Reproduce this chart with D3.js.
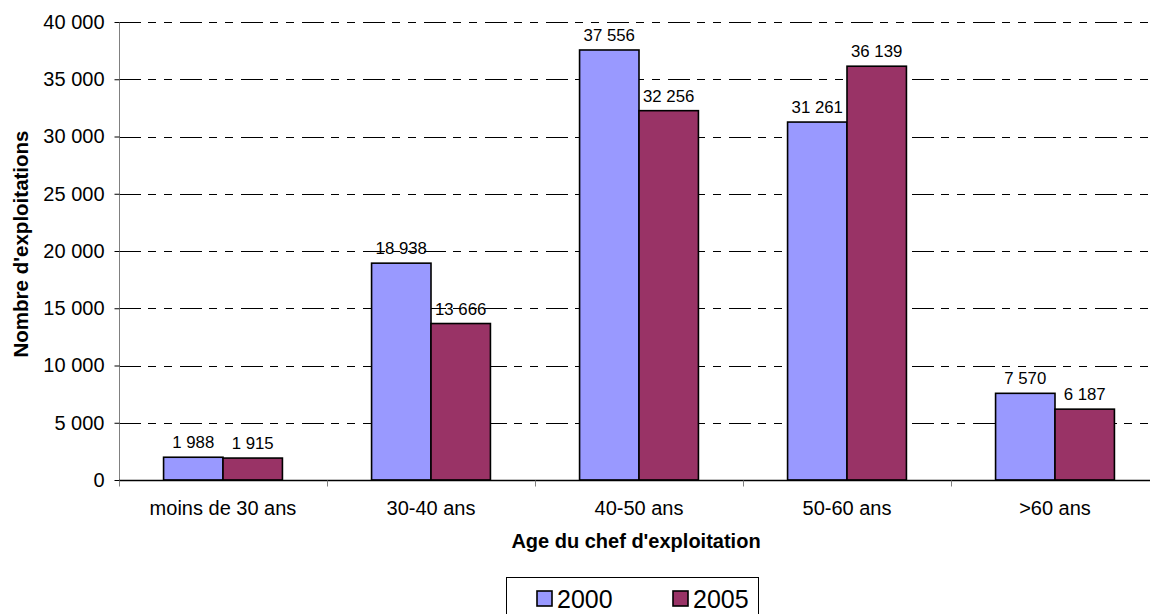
<!DOCTYPE html>
<html>
<head>
<meta charset="utf-8">
<script src="https://cdn.jsdelivr.net/npm/d3@7"></script>
<style>
  html, body { margin: 0; padding: 0; background: #fff; }
  svg { display: block; font-family: "Liberation Sans", Arial, sans-serif; }
</style>
</head>
<body>
<svg id="chart" width="1150" height="614"></svg>
<script>
// Farm counts by age of the head of holding
const categories = ["moins de 30 ans", "30-40 ans", "40-50 ans", "50-60 ans", ">60 ans"];
const seriesNames = ["2000", "2005"];
const values2000 = [1988, 18938, 37556, 31261, 7570];
const values2005 = [1915, 13666, 32256, 36139, 6187];
const yTicks = [0, 5000, 10000, 15000, 20000, 25000, 30000, 35000, 40000];
const colors = ["#9999FF", "#993366"];

const series = [values2000, values2005];

const svg = d3.select("#chart");
const margin = { left: 119, top: 22, bottom: 480 };
const bandW = 208;
const plotRight = margin.left + bandW * categories.length;

const x = d3.scaleBand().domain(categories).range([margin.left, plotRight]).paddingInner(0).paddingOuter(0);
const y = d3.scaleLinear().domain([0, 40000]).range([margin.bottom, margin.top]);

// gap width 150% between clusters
const barW = bandW / (2 + 1.5);
const xs = d3.scaleBand().domain(seriesNames).range([0, barW * 2]);

const fmt = v => d3.format(",")(v).replace(/,/g, " ");

// horizontal gridlines
svg.append("g")
  .selectAll("line")
  .data(yTicks.filter(t => t > 0))
  .join("line")
  .attr("x1", margin.left).attr("x2", plotRight)
  .attr("y1", d => Math.round(y(d)) + 0.5).attr("y2", d => Math.round(y(d)) + 0.5)
  .attr("stroke", "#000").attr("stroke-width", 1)
  .attr("stroke-dasharray", "22,7,8,8,8,8");

// y axis
const yAxis = d3.axisLeft(y).tickValues(yTicks).tickSize(5).tickPadding(10).tickFormat(fmt);
const gy = svg.append("g").attr("transform", `translate(${margin.left + 0.5},0)`).call(yAxis);
gy.select(".domain").attr("stroke", "#808080").attr("d", `M0,${margin.top}V${margin.bottom + 6}`);
gy.selectAll(".tick line").attr("stroke", "#000");
gy.selectAll(".tick text").attr("font-size", 20).attr("fill", "#000").attr("font-family", "Liberation Sans, Arial, sans-serif");

// bars
const groups = svg.append("g").selectAll("g")
  .data(categories)
  .join("g")
  .attr("transform", d => `translate(${x(d) + (bandW - barW * 2) / 2},0)`);

series.forEach((vals, si) => {
  groups.append("rect")
    .attr("x", xs(seriesNames[si]))
    .attr("width", barW)
    .attr("y", (d, i) => y(vals[i]))
    .attr("height", (d, i) => y(0) - y(vals[i]))
    .attr("fill", colors[si])
    .attr("stroke", "#000").attr("stroke-width", 1.6);
  groups.append("text")
    .attr("x", xs(seriesNames[si]) + barW / 2)
    .attr("y", (d, i) => y(vals[i]) - 9)
    .attr("text-anchor", "middle")
    .attr("font-size", 16.8)
    .text((d, i) => fmt(vals[i]));
});

// x axis
const gx = svg.append("g").attr("transform", `translate(0,${margin.bottom + 0.5})`);
gx.append("line").attr("x1", margin.left).attr("x2", plotRight).attr("stroke", "#000").attr("stroke-width", 1.5);
gx.selectAll("line.tk")
  .data(d3.range(categories.length + 1))
  .join("line").attr("class", "tk")
  .attr("x1", i => margin.left + i * bandW + 0.5).attr("x2", i => margin.left + i * bandW + 0.5)
  .attr("y1", 0).attr("y2", 6)
  .attr("stroke", "#808080");
gx.selectAll("text")
  .data(categories)
  .join("text")
  .attr("x", d => x(d) + bandW / 2)
  .attr("y", 34.5)
  .attr("text-anchor", "middle")
  .attr("font-size", 20)
  .text(d => d);

// axis titles
svg.append("text")
  .attr("x", 636).attr("y", 548)
  .attr("text-anchor", "middle").attr("font-weight", "bold").attr("font-size", 20)
  .text("Age du chef d'exploitation");
svg.append("text")
  .attr("transform", "translate(28,244) rotate(-90)")
  .attr("text-anchor", "middle").attr("font-weight", "bold").attr("font-size", 20.5)
  .text("Nombre d'exploitations");

// legend
const lg = svg.append("g").attr("transform", "translate(506,577)");
lg.append("rect").attr("x", 0.5).attr("y", 0.5).attr("width", 252).attr("height", 40)
  .attr("fill", "#fff").attr("stroke", "#000").attr("stroke-width", 1);
seriesNames.forEach((name, i) => {
  const item = lg.append("g").attr("transform", `translate(${31 + i * 136},14)`);
  item.append("rect").attr("width", 15).attr("height", 15)
    .attr("fill", colors[i]).attr("stroke", "#000").attr("stroke-width", 1.6);
  item.append("text").attr("x", 20).attr("y", 16.5).attr("font-size", 25).text(name);
});
</script>
</body>
</html>
